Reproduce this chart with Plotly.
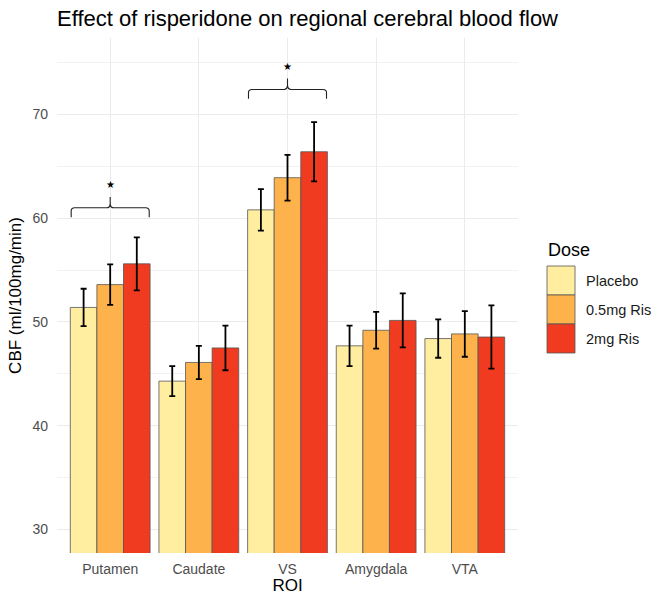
import plotly.graph_objects as go

rois = ["Putamen", "Caudate", "VS", "Amygdala", "VTA"]
doses = ["Placebo", "0.5mg Ris", "2mg Ris"]
colors = ["#FFEDA0", "#FEB24C", "#F03B20"]

placebo = [51.4, 44.3, 60.8, 47.7, 48.4]
placebo_se = [1.8, 1.45, 2.0, 1.95, 1.85]
ris_low = [53.6, 46.1, 63.9, 49.2, 48.85]
ris_low_se = [1.95, 1.6, 2.2, 1.77, 2.2]
ris_high = [55.6, 47.5, 66.4, 50.15, 48.55]
ris_high_se = [2.55, 2.15, 2.85, 2.6, 3.05]

sig_rois = ["Putamen", "VS"]
sig_y = [61.0, 72.4]

values = [placebo, ris_low, ris_high]
errors = [placebo_se, ris_low_se, ris_high_se]

FONT = "Liberation Sans, Arial, sans-serif"

fig = go.Figure()
for name, col, v, e in zip(doses, colors, values, errors):
    fig.add_trace(go.Bar(
        x=rois, y=v, name=name, showlegend=False,
        marker=dict(color=col, line=dict(color="#555555", width=0.8)),
        error_y=dict(type="data", array=e, visible=True, color="black",
                     thickness=1.8, width=3),
    ))

# significance brackets
shapes = []
annotations = []
for r, y in zip(sig_rois, sig_y):
    i = rois.index(r)
    x0, x1, xc = i - 0.44, i + 0.44, i
    d, c, p = 0.9, 0.04, 1.05
    path = (f"M {x0},{y - d} L {x0},{y - 0.3} Q {x0},{y} {x0 + c},{y} "
            f"L {xc - c},{y} Q {xc},{y} {xc},{y + 0.45} L {xc},{y + p} "
            f"M {xc},{y + 0.45} Q {xc},{y} {xc + c},{y} "
            f"L {x1 - c},{y} Q {x1},{y} {x1},{y - 0.3} L {x1},{y - d}")
    shapes.append(dict(type="path", path=path, xref="x", yref="y",
                       line=dict(color="#222222", width=1.1)))
    annotations.append(dict(x=r, y=y + 2.2, xref="x", yref="y", text="★",
                            showarrow=False, font=dict(size=10, color="black", family=FONT)))

# legend drawn manually (ggplot-style keys)
L, T, B = 57.0, 38.0, 553.0
W, H = 518.0 - L, B - T
def px(x):
    return (x - L) / W
def py(y):
    return (B - y) / H

annotations.append(dict(x=px(546), y=py(250), xref="paper", yref="paper", text="Dose",
                        showarrow=False, xanchor="left", yanchor="middle",
                        font=dict(size=18, color="black", family=FONT)))
key_top = 266.0
key_h = 29.0
for k, (name, col) in enumerate(zip(doses, colors)):
    y0 = key_top + k * key_h
    shapes.append(dict(type="rect", xref="paper", yref="paper",
                       x0=px(547), x1=px(575), y0=py(y0 + key_h), y1=py(y0),
                       fillcolor=col, line=dict(color="#555555", width=0.8)))
    annotations.append(dict(x=px(584), y=py(y0 + key_h / 2), xref="paper", yref="paper",
                            text=name, showarrow=False, xanchor="left", yanchor="middle",
                            font=dict(size=14.5, color="#1a1a1a", family=FONT)))

fig.update_layout(
    width=652, height=595,
    margin=dict(l=57, r=134, t=38, b=42),
    paper_bgcolor="white", plot_bgcolor="white",
    barmode="group", bargap=0.1, bargroupgap=0,
    font=dict(family=FONT),
    title=dict(text="Effect of risperidone on regional cerebral blood flow",
               x=57 / 652, xanchor="left", xref="container",
               y=1 - 18 / 595, yanchor="middle", yref="container",
               font=dict(size=22, color="black", family=FONT)),
    shapes=shapes,
    annotations=annotations,
)
fig.update_xaxes(
    range=[-0.6, 4.6], automargin=False,
    showgrid=True, gridcolor="#ebebeb", gridwidth=1, zeroline=False,
    showline=False, ticks="", ticklabelstandoff=6,
    tickfont=dict(size=14, color="#4d4d4d"),
    title=dict(text="ROI", font=dict(size=17, color="black"), standoff=0),
)
fig.update_yaxes(
    range=[27.74, 77.36], tickvals=[30, 40, 50, 60, 70], automargin=False,
    showgrid=True, gridcolor="#ebebeb", gridwidth=1, zeroline=False,
    showline=False, ticks="", ticklabelstandoff=8,
    tickfont=dict(size=14, color="#4d4d4d"),
    minor=dict(tickvals=[35, 45, 55, 65, 75], showgrid=True, gridcolor="#f2f2f2", gridwidth=1),
    title=dict(text="CBF (ml/100mg/min)", font=dict(size=17, color="black"), standoff=6),
)

fig.write_html("out.html")
